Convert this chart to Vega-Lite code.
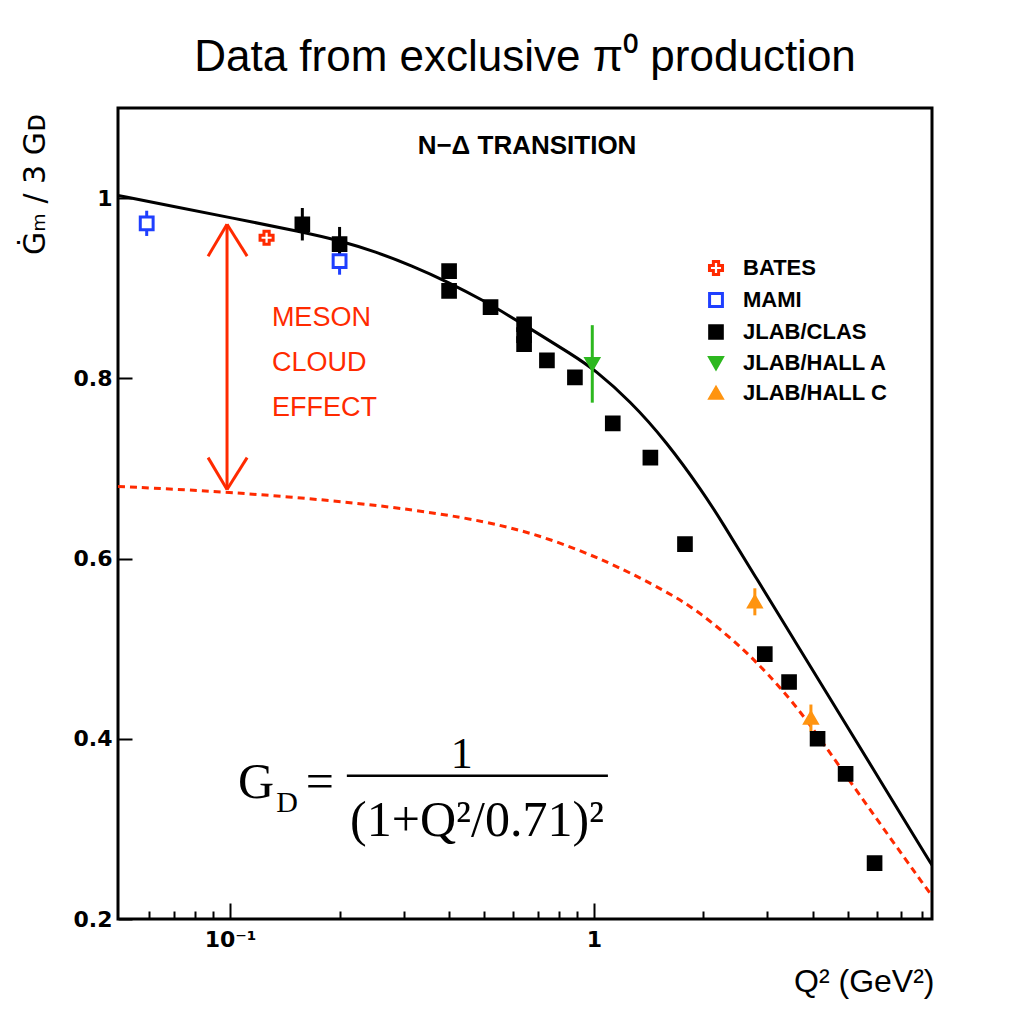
{
  "$schema": "https://vega.github.io/schema/vega-lite/v6.json",
  "width": 814,
  "height": 811,
  "autosize": {"type": "none"},
  "padding": {"left": 118, "top": 108, "right": 94, "bottom": 99},
  "background": "white",
  "title": {
    "text": "Data from exclusive π⁰ production",
    "font": "Liberation Sans",
    "fontSize": 44,
    "fontWeight": "normal",
    "color": "black",
    "anchor": "middle",
    "frame": "group",
    "offset": 28
  },
  "config": {
    "view": {"stroke": "black", "strokeWidth": 3},
    "legend": {
      "orient": "none",
      "legendX": 587,
      "legendY": 149,
      "padding": 0,
      "symbolStrokeWidth": 3,
      "symbolSize": 180,
      "labelFont": "Liberation Sans",
      "labelFontSize": 22,
      "labelFontWeight": "bold",
      "labelColor": "black",
      "labelOffset": 16,
      "rowPadding": 6,
      "titleFontSize": 0
    }
  },
  "encoding": {
    "x": {
      "field": "q2",
      "type": "quantitative",
      "scale": {"type": "log", "domain": [0.0492, 8.5], "nice": false},
      "axis": {
        "values": [0.06, 0.07, 0.08, 0.09, 0.1, 0.2, 0.3, 0.4, 0.5, 0.6, 0.7, 0.8, 0.9, 1, 2, 3, 4, 5, 6, 7, 8],
        "labelExpr": "datum.value == 0.1 ? '10⁻¹' : (datum.value == 1 ? '1' : '')",
        "tickSize": {"condition": {"test": "datum.value == 0.1 || datum.value == 1", "value": -16}, "value": -8},
        "tickWidth": 2,
        "tickColor": "black",
        "domain": false,
        "grid": false,
        "labelFont": "DejaVu Sans",
        "labelFontWeight": "bold",
        "labelFontSize": 22,
        "labelColor": "black",
        "labelPadding": 26,
        "labelBaseline": "top",
        "labelFlush": false,
        "labelOverlap": false,
        "title": "Q² (GeV²)",
        "titleFont": "Liberation Sans",
        "titleFontSize": 32,
        "titleFontWeight": "normal",
        "titleColor": "black",
        "titleAlign": "right",
        "titleAnchor": "end",
        "titleBaseline": "alphabetic",
        "titleX": 816,
        "titleY": 72
      }
    },
    "y": {
      "field": "g",
      "type": "quantitative",
      "scale": {"domain": [0.2, 1.1], "nice": false, "zero": false},
      "axis": {
        "values": [0.2, 0.4, 0.6, 0.8, 1],
        "labelExpr": "datum.value == 1 ? '1' : format(datum.value, '.1f')",
        "tickSize": -14,
        "tickWidth": 2,
        "tickColor": "black",
        "domain": false,
        "grid": false,
        "labelFont": "DejaVu Sans",
        "labelFontWeight": "bold",
        "labelFontSize": 22,
        "labelColor": "black",
        "labelPadding": 20,
        "labelFlush": false,
        "labelOverlap": false,
        "title": "Ġₘ / 3 Gᴅ",
        "titleFont": "DejaVu Sans",
        "titleFontSize": 30,
        "titleFontWeight": "normal",
        "titleColor": "black",
        "titleAngle": 270,
        "titleAlign": "center",
        "titleBaseline": "middle",
        "titleX": -83,
        "titleY": 76
      }
    }
  },
  "layer": [
    {
      "data": {"values": [
        {"q2": 0.0492, "g": 1.003},
        {"q2": 0.07, "g": 0.9908},
        {"q2": 0.1, "g": 0.9784},
        {"q2": 0.158, "g": 0.9624},
        {"q2": 0.2, "g": 0.9529},
        {"q2": 0.251, "g": 0.9405},
        {"q2": 0.316, "g": 0.9251},
        {"q2": 0.398, "g": 0.9068},
        {"q2": 0.501, "g": 0.8856},
        {"q2": 0.599, "g": 0.867},
        {"q2": 0.891, "g": 0.8239},
        {"q2": 1.0, "g": 0.8101},
        {"q2": 1.259, "g": 0.7749},
        {"q2": 1.585, "g": 0.7294},
        {"q2": 1.995, "g": 0.6737},
        {"q2": 2.239, "g": 0.642},
        {"q2": 2.818, "g": 0.576},
        {"q2": 3.52, "g": 0.5123},
        {"q2": 4.37, "g": 0.4506},
        {"q2": 5.84, "g": 0.3674},
        {"q2": 8.37, "g": 0.2638},
        {"q2": 8.5, "g": 0.2598}
      ]},
      "mark": {"type": "line", "color": "black", "strokeWidth": 3, "clip": true, "interpolate": "basis"}
    },
    {
      "data": {"values": [
        {"q2": 0.0492, "g": 0.68},
        {"q2": 0.1, "g": 0.674},
        {"q2": 0.2275, "g": 0.662},
        {"q2": 0.448, "g": 0.646},
        {"q2": 0.706, "g": 0.627},
        {"q2": 1.107, "g": 0.596},
        {"q2": 1.59, "g": 0.563},
        {"q2": 1.95, "g": 0.541},
        {"q2": 2.52, "g": 0.503},
        {"q2": 2.81, "g": 0.484},
        {"q2": 3.24, "g": 0.458},
        {"q2": 3.85, "g": 0.421},
        {"q2": 4.74, "g": 0.369},
        {"q2": 6.11, "g": 0.306},
        {"q2": 8.37, "g": 0.229},
        {"q2": 8.5, "g": 0.226}
      ]},
      "mark": {"type": "line", "color": "#ff2a00", "strokeWidth": 3, "strokeDash": [7, 5], "clip": true, "interpolate": "basis"}
    },
    {
      "data": {"values": [
        {"experiment": "MAMI", "q2": 0.059, "g": 0.958, "g2": 0.986},
        {"experiment": "MAMI", "q2": 0.2, "g": 0.915, "g2": 0.945},
        {"experiment": "JLAB/CLAS", "q2": 0.158, "g": 0.953, "g2": 0.989},
        {"experiment": "JLAB/CLAS", "q2": 0.2, "g": 0.93, "g2": 0.968},
        {"experiment": "JLAB/HALL A", "q2": 0.99, "g": 0.773, "g2": 0.859},
        {"experiment": "JLAB/HALL C", "q2": 2.77, "g": 0.537, "g2": 0.567},
        {"experiment": "JLAB/HALL C", "q2": 3.95, "g": 0.408, "g2": 0.438}
      ]},
      "mark": {"type": "rule", "strokeWidth": 3},
      "encoding": {
        "y2": {"field": "g2"},
        "stroke": {
          "field": "experiment", "type": "nominal",
          "scale": {"domain": ["BATES", "MAMI", "JLAB/CLAS", "JLAB/HALL A", "JLAB/HALL C"], "range": ["#ff2a00", "#1f3fff", "black", "#2db81f", "#ff9410"]},
          "legend": {"title": null}
        }
      }
    },
    {
      "data": {"values": [
        {"experiment": "MAMI", "q2": 0.059, "g": 0.972},
        {"experiment": "MAMI", "q2": 0.2, "g": 0.93},
        {"experiment": "BATES", "q2": 0.126, "g": 0.956},
        {"experiment": "JLAB/CLAS", "q2": 0.158, "g": 0.971},
        {"experiment": "JLAB/CLAS", "q2": 0.2, "g": 0.949},
        {"experiment": "JLAB/CLAS", "q2": 0.4, "g": 0.919},
        {"experiment": "JLAB/CLAS", "q2": 0.4, "g": 0.897},
        {"experiment": "JLAB/CLAS", "q2": 0.52, "g": 0.879},
        {"experiment": "JLAB/CLAS", "q2": 0.643, "g": 0.86},
        {"experiment": "JLAB/CLAS", "q2": 0.643, "g": 0.848},
        {"experiment": "JLAB/CLAS", "q2": 0.643, "g": 0.838},
        {"experiment": "JLAB/CLAS", "q2": 0.743, "g": 0.82},
        {"experiment": "JLAB/CLAS", "q2": 0.887, "g": 0.801},
        {"experiment": "JLAB/CLAS", "q2": 1.127, "g": 0.75},
        {"experiment": "JLAB/CLAS", "q2": 1.43, "g": 0.712},
        {"experiment": "JLAB/CLAS", "q2": 1.78, "g": 0.616},
        {"experiment": "JLAB/CLAS", "q2": 2.95, "g": 0.494},
        {"experiment": "JLAB/CLAS", "q2": 3.44, "g": 0.463},
        {"experiment": "JLAB/CLAS", "q2": 4.12, "g": 0.4},
        {"experiment": "JLAB/CLAS", "q2": 4.92, "g": 0.361},
        {"experiment": "JLAB/CLAS", "q2": 5.91, "g": 0.262},
        {"experiment": "JLAB/HALL A", "q2": 0.99, "g": 0.816},
        {"experiment": "JLAB/HALL C", "q2": 2.77, "g": 0.552},
        {"experiment": "JLAB/HALL C", "q2": 3.95, "g": 0.423}
      ]},
      "mark": {"type": "point", "strokeWidth": 3, "opacity": 1},
      "encoding": {
        "shape": {
          "field": "experiment", "type": "nominal",
          "scale": {"domain": ["BATES", "MAMI", "JLAB/CLAS", "JLAB/HALL A", "JLAB/HALL C"], "range": ["cross", "square", "square", "triangle-down", "triangle-up"]},
          "legend": {"title": null}
        },
        "stroke": {
          "field": "experiment", "type": "nominal",
          "scale": {"domain": ["BATES", "MAMI", "JLAB/CLAS", "JLAB/HALL A", "JLAB/HALL C"], "range": ["#ff2a00", "#1f3fff", "black", "#2db81f", "#ff9410"]},
          "legend": {"title": null}
        },
        "fill": {
          "field": "experiment", "type": "nominal",
          "scale": {"domain": ["BATES", "MAMI", "JLAB/CLAS", "JLAB/HALL A", "JLAB/HALL C"], "range": ["white", "white", "black", "#2db81f", "#ff9410"]},
          "legend": {"title": null}
        },
        "size": {
          "field": "experiment", "type": "nominal",
          "scale": {"domain": ["BATES", "MAMI", "JLAB/CLAS", "JLAB/HALL A", "JLAB/HALL C"], "range": [170, 150, 360, 300, 260]},
          "legend": null
        }
      }
    },
    {
      "data": {"values": [
        {"q2": 0.0981, "g": 0.971, "q2b": 0.0981, "g2": 0.6767},
        {"q2": 0.0981, "g": 0.971, "q2b": 0.08701, "g2": 0.9356},
        {"q2": 0.0981, "g": 0.971, "q2b": 0.1114, "g2": 0.9356},
        {"q2": 0.0981, "g": 0.6767, "q2b": 0.08701, "g2": 0.712},
        {"q2": 0.0981, "g": 0.6767, "q2b": 0.1114, "g2": 0.712}
      ]},
      "mark": {"type": "rule", "color": "#ff2a00", "strokeWidth": 3},
      "encoding": {"x2": {"field": "q2b"}, "y2": {"field": "g2"}}
    },
    {
      "data": {"values": [{"q2": 0.2094, "g": 0.359, "q2b": 1.093, "g2": 0.359}]},
      "mark": {"type": "rule", "color": "black", "strokeWidth": 2.5},
      "encoding": {"x2": {"field": "q2b"}, "y2": {"field": "g2"}}
    },
    {
      "data": {"values": [{"q2": 0.655, "g": 1.049, "label": "N−Δ TRANSITION"}]},
      "mark": {"type": "text", "font": "Liberation Sans", "fontSize": 26, "fontWeight": "bold", "color": "black", "align": "center", "baseline": "alphabetic"},
      "encoding": {"text": {"field": "label"}}
    },
    {
      "data": {"values": [
        {"q2": 0.1303, "g": 0.858, "label": "MESON"},
        {"q2": 0.1303, "g": 0.808, "label": "CLOUD"},
        {"q2": 0.1303, "g": 0.758, "label": "EFFECT"}
      ]},
      "mark": {"type": "text", "font": "Liberation Sans", "fontSize": 27, "fontWeight": "normal", "color": "#ff2a00", "align": "left", "baseline": "alphabetic"},
      "encoding": {"text": {"field": "label"}}
    },
    {
      "data": {"values": [
        {"q2": 0.1178, "g": 0.334, "label": "G"},
        {"q2": 0.1766, "g": 0.3344, "label": "="}
      ]},
      "mark": {"type": "text", "font": "Liberation Serif", "fontSize": 50, "color": "black", "align": "center", "baseline": "alphabetic"},
      "encoding": {"text": {"field": "label"}}
    },
    {
      "data": {"values": [{"q2": 0.1435, "g": 0.319, "label": "D"}]},
      "mark": {"type": "text", "font": "Liberation Serif", "fontSize": 30, "color": "black", "align": "center", "baseline": "alphabetic"},
      "encoding": {"text": {"field": "label"}}
    },
    {
      "data": {"values": [{"q2": 0.4335, "g": 0.368, "label": "1"}]},
      "mark": {"type": "text", "font": "Liberation Serif", "fontSize": 44, "color": "black", "align": "center", "baseline": "alphabetic"},
      "encoding": {"text": {"field": "label"}}
    },
    {
      "data": {"values": [{"q2": 0.4775, "g": 0.292, "label": "(1+Q²/0.71)²"}]},
      "mark": {"type": "text", "font": "Liberation Serif", "fontSize": 50, "color": "black", "align": "center", "baseline": "alphabetic"},
      "encoding": {"text": {"field": "label"}}
    }
  ]
}
